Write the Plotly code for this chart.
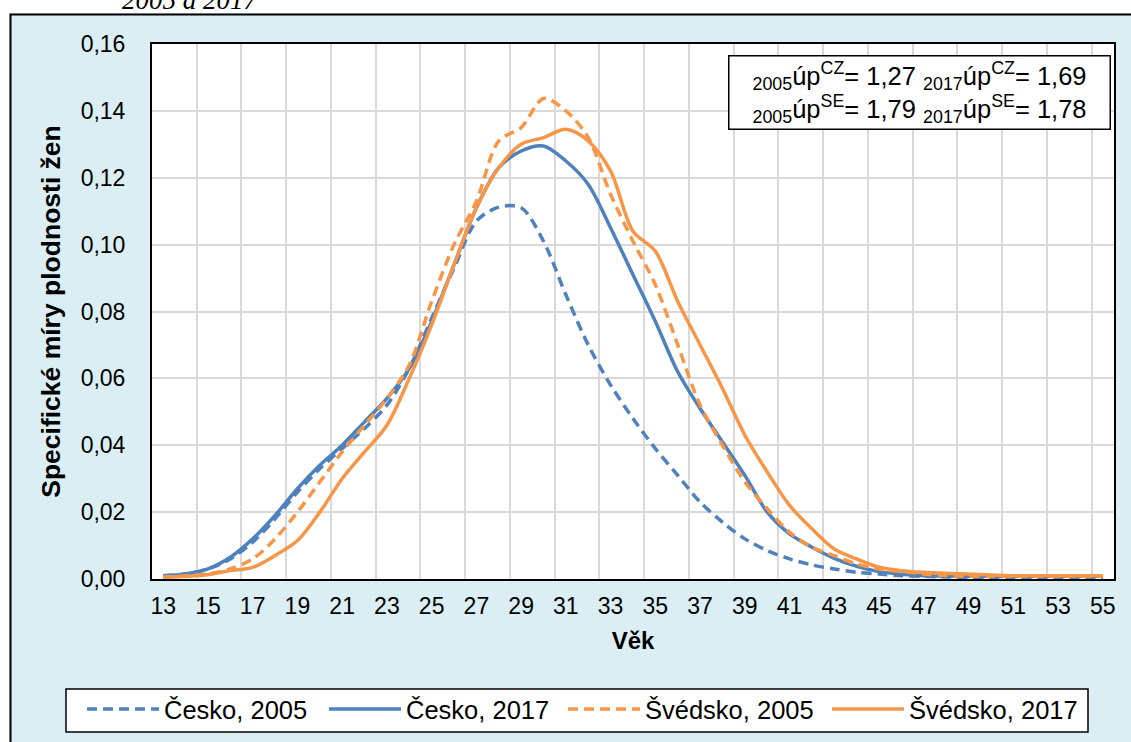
import plotly.graph_objects as go

ages = list(range(13, 56))

cz_2005 = [0.001, 0.0015, 0.003, 0.006, 0.011, 0.018, 0.026, 0.033, 0.039, 0.045,
           0.052, 0.063, 0.078, 0.093, 0.107, 0.1112, 0.111, 0.101, 0.085, 0.070,
           0.058, 0.048, 0.039, 0.031, 0.023, 0.017, 0.012, 0.0085, 0.006, 0.0042,
           0.003, 0.002, 0.0015, 0.001, 0.0008, 0.0006, 0.0005, 0.0005, 0.0005, 0.0005,
           0.0005, 0.0005, 0.0005]
cz_2017 = [0.001, 0.0015, 0.003, 0.0065, 0.012, 0.019, 0.027, 0.034, 0.040, 0.047,
           0.054, 0.063, 0.077, 0.094, 0.111, 0.123, 0.128, 0.1295, 0.125, 0.118,
           0.105, 0.091, 0.077, 0.062, 0.051, 0.041, 0.031, 0.020, 0.0135, 0.0095,
           0.0062, 0.0038, 0.0022, 0.0014, 0.001, 0.0009, 0.0008, 0.0008, 0.0008, 0.0008,
           0.0008, 0.0008, 0.0008]
se_2005 = [0.0005, 0.001, 0.0015, 0.003, 0.006, 0.012, 0.020, 0.029, 0.038, 0.046,
           0.054, 0.064, 0.083, 0.100, 0.113, 0.131, 0.135, 0.1437, 0.140, 0.132,
           0.115, 0.101, 0.088, 0.070, 0.052, 0.040, 0.029, 0.021, 0.014, 0.0095,
           0.007, 0.0045, 0.003, 0.0022, 0.0015, 0.001, 0.0008, 0.0008, 0.0008, 0.0008,
           0.0008, 0.0008, 0.0008]
se_2017 = [0.0005, 0.0008, 0.0013, 0.0025, 0.0035, 0.007, 0.0115, 0.020, 0.030, 0.038,
           0.046, 0.060, 0.076, 0.094, 0.111, 0.123, 0.130, 0.132, 0.1345, 0.131,
           0.122, 0.104, 0.098, 0.083, 0.070, 0.057, 0.043, 0.032, 0.022, 0.015,
           0.009, 0.006, 0.0035, 0.0025, 0.002, 0.0017, 0.0015, 0.0012, 0.001, 0.001,
           0.001, 0.001, 0.001]

series_names = ["Česko, 2005", "Česko, 2017", "Švédsko, 2005", "Švédsko, 2017"]
x_tick_labels = [str(a) for a in range(13, 56, 2)]
y_ticks = [0, 0.02, 0.04, 0.06, 0.08, 0.10, 0.12, 0.14, 0.16]
info_text = ("<sub>2005</sub>úp<sup>CZ</sup>= 1,27 <sub>2017</sub>úp<sup>CZ</sup>= 1,69<br>"
             "<sub>2005</sub>úp<sup>SE</sup>= 1,79 <sub>2017</sub>úp<sup>SE</sup>= 1,78")
caption = "2005 a 2017"

BLUE = "#4F81BD"
ORANGE = "#F79646"
BG = "#DAEEF3"
FONT = "Liberation Sans, Arial, sans-serif"

W, H = 1131, 742
L, R, T, B = 152, 17, 44, 163
pw, ph = W - L - R, H - T - B


def px2x(px):
    return (px - L) / pw


def py2y(py):
    return (H - B - py) / ph


fig = go.Figure()
styles = [(BLUE, "10px,6px"), (BLUE, "solid"), (ORANGE, "10px,6px"), (ORANGE, "solid")]
legend_ids = ["legend", "legend2", "legend3", "legend4"]
legend_left_px = [82, 324, 563, 827]
for name, vals, (col, dash), lid in zip(series_names, [cz_2005, cz_2017, se_2005, se_2017],
                                        styles, legend_ids):
    fig.add_trace(go.Scatter(
        x=ages, y=vals, name=name, mode="lines", legend=lid,
        line=dict(color=col, width=3.5, dash=dash, shape="spline", smoothing=0.9),
        hoverinfo="skip",
    ))

legend_common = dict(
    orientation="h", xref="paper", yref="paper",
    xanchor="left", y=py2y(686), yanchor="top",
    bgcolor="rgba(0,0,0,0)", borderwidth=0,
    font=dict(family=FONT, size=25.5, color="black"),
    itemwidth=72, tracegroupgap=0,
)
legend_layout = {lid: dict(legend_common, x=px2x(xp)) for lid, xp in zip(legend_ids, legend_left_px)}

fig.update_layout(
    width=W, height=H,
    margin=dict(l=L, r=R, t=T, b=B, autoexpand=False),
    paper_bgcolor=BG,
    plot_bgcolor="white",
    separators=", ",
    font=dict(family=FONT, size=23, color="black"),
    showlegend=True,
    **legend_layout,
    xaxis=dict(
        range=[12.5, 55.5],
        automargin=False,
        tickmode="array",
        tickvals=list(range(13, 56, 2)),
        ticktext=x_tick_labels,
        showgrid=False,
        showline=True, linecolor="black", linewidth=2, mirror=True,
        ticks="", ticklabelstandoff=5,
        tickfont=dict(size=23),
        minor=dict(tickmode="array", tickvals=[14.5 + 2 * i for i in range(21)],
                   showgrid=True, gridcolor="#D9D9D9", gridwidth=2, ticks=""),
        title=dict(text="<b>Věk</b>", font=dict(size=24), standoff=15),
        zeroline=False,
    ),
    yaxis=dict(
        range=[0, 0.16],
        automargin=False,
        tickmode="array", tickvals=y_ticks, tickformat=".2f",
        showgrid=True, gridcolor="#D9D9D9", gridwidth=2,
        showline=True, linecolor="black", linewidth=2, mirror=True,
        ticks="", ticklabelstandoff=20,
        tickfont=dict(size=23),
        title=dict(text="<b>Specifické míry plodnosti žen</b>", font=dict(size=26.5), standoff=12),
        zeroline=False,
    ),
    shapes=[
        dict(type="rect", xref="paper", yref="paper",
             x0=px2x(-5), x1=px2x(9), y0=py2y(800), y1=py2y(-5),
             fillcolor="white", line=dict(width=0), layer="below"),
        dict(type="rect", xref="paper", yref="paper",
             x0=px2x(-5), x1=px2x(1140), y0=py2y(13), y1=py2y(-5),
             fillcolor="white", line=dict(width=0), layer="below"),
        dict(type="rect", xref="paper", yref="paper",
             x0=px2x(10.5), x1=px2x(1150), y0=py2y(800), y1=py2y(14.5),
             fillcolor="rgba(0,0,0,0)", line=dict(color="black", width=2), layer="below"),
        dict(type="rect", xref="paper", yref="paper",
             x0=px2x(66), x1=px2x(1088), y0=py2y(732), y1=py2y(689),
             fillcolor="white", line=dict(color="black", width=1.5), layer="below"),
    ],
    annotations=[
        dict(text=info_text, xref="paper", yref="paper",
             x=px2x(919), y=py2y(92.5), xanchor="center", yanchor="middle",
             showarrow=False, align="center",
             font=dict(family=FONT, size=25.5, color="black"),
             bgcolor="white", bordercolor="black", borderwidth=1.5,
             width=378, height=70),
        dict(text="<i>" + caption + "</i>", xref="paper", yref="paper",
             x=px2x(120), y=py2y(17), xanchor="left", yanchor="bottom",
             showarrow=False, font=dict(family="Liberation Serif, serif", size=27, color="black")),
    ],
)

fig.write_html("out.html", config={"displayModeBar": False},
               post_script="document.body.style.margin='0';")
